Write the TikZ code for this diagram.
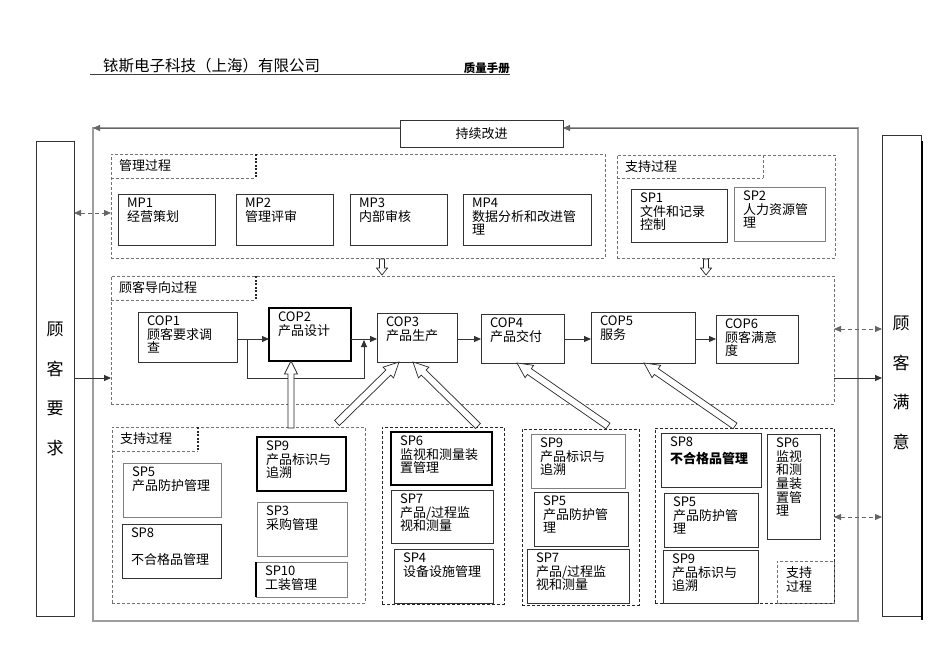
\documentclass[tikz,border=0pt]{standalone}
\usepackage{fontspec}
\setmainfont{Noto Sans CJK SC}
\usetikzlibrary{calc,arrows.meta}
\newcommand\pbox[7][bx]{%
  \node[#1, minimum width={(#5-#3)*1pt}, minimum height={(#6-#4)*1pt}, anchor=north west] (#2) at (#3,#4) {};
  \node[tx] (#2t) at ($(#2.north west)+(9,4)$) {#7};}
\newcommand\gbox[6][grp]{%
  \node[#1, minimum width={(#5-#3)*1pt}, minimum height={(#6-#4)*1pt}, anchor=north west] (#2) at (#3,#4) {};}
\newcommand\glabel[7][lbr]{%
  \node[inner sep=0pt, outer sep=0pt, minimum width={(#5-#3)*1pt}, minimum height={(#6-#4)*1pt}, anchor=north west] (#2) at (#3,#4) {};
  \node[lt, anchor=west] (#2t) at ($(#2.west)+(8,0)$) {#7};
  \draw[grp] (#2.south west) -- (#2.south east);
  \draw[#1] (#2.north east) -- (#2.south east);}
\newcommand\harrow[5]{%
  \coordinate (hh) at ($(#2)!#5pt!(#1)$);
  \draw[hol] ($(#1)!#3pt!90:(#2)$) -- ($(hh)!#3pt!90:(#2)$) -- ($(hh)!#4pt!90:(#2)$) -- (#2)
    -- ($(hh)!#4pt!-90:(#2)$) -- ($(hh)!#3pt!-90:(#2)$) -- ($(#1)!#3pt!-90:(#2)$) -- cycle;}
\begin{document}
\begin{tikzpicture}[x=1pt,y=-1pt,
  bx/.style={draw=black!80, line width=0.9pt, inner sep=0pt, outer sep=0pt},
  bxg/.style={draw=black!50, line width=0.9pt, inner sep=0pt, outer sep=0pt},
  bxk/.style={draw=black, line width=1.2pt, inner sep=0pt, outer sep=0pt},
  tx/.style={inner sep=0pt, outer sep=0pt, align=left, anchor=north west, font=\fontsize{13}{13.6}\selectfont},
  lt/.style={inner sep=0pt, outer sep=0pt, font=\fontsize{13}{14}\selectfont},
  grp/.style={draw=black!55, dash pattern=on 3pt off 2pt, line width=0.7pt, inner sep=0pt, outer sep=0pt},
  grpk/.style={draw=black!85, dash pattern=on 3pt off 2pt, line width=0.9pt, inner sep=0pt, outer sep=0pt},
  lbr/.style={draw=black!85, dash pattern=on 2pt off 1.5pt, line width=1.4pt},
  lbg/.style={draw=black!55, dash pattern=on 3pt off 2pt, line width=0.7pt},
  conn/.style={draw=black!80, line width=0.9pt},
  tip/.style={-{Triangle[length=7pt,width=6pt]}},
  dda/.style={draw=black!60, dash pattern=on 4pt off 3pt, line width=1pt,
    {Triangle[length=7pt,width=6pt]}-{Triangle[length=7pt,width=6pt]}},
  hol/.style={draw=black!85, fill=white, line width=0.7pt, line join=miter},
  big/.style={inner sep=0pt, outer sep=0pt, align=center, font=\fontsize{17}{39.5}\selectfont}
]
\useasboundingbox (0,0) rectangle (945,669);
\fill[white] (0,0) rectangle (945,669);

% header
\node[inner sep=0pt, anchor=west, font=\fontsize{15.5}{16}\selectfont] (hdr) at (103,66) {铱斯电子科技（上海）有限公司};
\node[inner sep=0pt, anchor=east, font=\fontsize{11.5}{12}\selectfont\bfseries] (hdr2) at (510,68) {质量手册};
\coordinate (ul1) at (90,74);
\coordinate (ul2) at (510,74);
\draw[draw=black!75, line width=0.8pt] (ul1) -- (ul2);

% outer frame
\node[draw=black!38, line width=1.6pt, inner sep=0pt, outer sep=0pt, minimum width=765pt, minimum height=493pt, anchor=north west] (outer) at (93,128) {};
\node[bx, fill=white, minimum width=163pt, minimum height=27pt, anchor=north west, font=\fontsize{13}{14}\selectfont] (ci) at (400,120) {持续改进};
\draw[conn, draw=black!60, tip] (outer.north east) -- (ci.east |- outer.north);
\draw[conn, draw=black!60, tip] (ci.west |- outer.north) -- (outer.north west);

% customer boxes
\node[bx, minimum width=38pt, minimum height=475pt, anchor=north west] (crq) at (36,141) {};
\node[big] (crqt) at (55,389) {顾\\客\\要\\求};
\node[bx, minimum width=39pt, minimum height=481pt, anchor=north west] (cs) at (882,135) {};
\node[big] (cst) at (901,383) {顾\\客\\满\\意};
\coordinate (csr1) at (922,141);
\coordinate (csr2) at (922,620);
\draw[line width=2pt] (csr1) -- (csr2);

% management group
\gbox{mgmt}{111}{154}{605}{258}
\glabel{mgl}{111}{154}{256}{178}{管理过程}
\pbox{mp1}{118}{194}{215}{245}{MP1\\经营策划}
\pbox{mp2}{236}{194}{333}{245}{MP2\\管理评审}
\pbox{mp3}{350}{194}{447}{245}{MP3\\内部审核}
\pbox{mp4}{463}{194}{591}{245}{MP4\\数据分析和改进管\\理}

% support top right
\gbox{sptr}{617}{155}{835}{258}
\glabel[lbg]{sptl}{617}{155}{763}{178}{支持过程}
\pbox{sp1}{631}{189}{727}{242}{SP1\\文件和记录\\控制}
\pbox[bxg]{sp2}{734}{187}{825}{241}{SP2\\人力资源管\\理}

% customer oriented process
\gbox{copa}{111}{276}{834}{404}
\glabel{copl}{111}{276}{256}{300}{顾客导向过程}
\pbox{cop1}{138}{312}{237}{362}{COP1\\顾客要求调\\查}
\pbox[bxk]{cop2}{269}{308}{351}{361}{COP2\\产品设计}
\pbox{cop3}{377}{313}{457}{362}{COP3\\产品生产}
\pbox{cop4}{481}{314}{564}{363}{COP4\\产品交付}
\pbox{cop5}{591}{312}{695}{363}{COP5\\服务}
\pbox{cop6}{716}{315}{798}{363}{COP6\\顾客满意\\度}

\draw[conn, tip] (cop1.east |- 0,339) -- (cop2.west |- 0,339);
\draw[conn, tip] (cop2.east |- 0,339) -- (cop3.west |- 0,339);
\draw[conn, tip] (cop3.east |- 0,339) -- (cop4.west |- 0,339);
\draw[conn, tip] (cop4.east |- 0,339) -- (cop5.west |- 0,339);
\draw[conn, tip] (cop5.east |- 0,339) -- (cop6.west |- 0,339);
\coordinate (bpa) at (247,339);
\coordinate (bpb) at (364,340);
\draw[conn, tip] (bpa) -- ++(0,39) -| (bpb);

% top-down hollow arrows
\coordinate (d1t) at (382,259);
\coordinate (d1h) at (382,275);
\harrow{d1t}{d1h}{2.5}{5.5}{7}
\coordinate (d2t) at (706,259);
\coordinate (d2h) at (706,275);
\harrow{d2t}{d2h}{2.5}{5.5}{7}

% side connectors
\draw[dda] (crq.east |- 0,213) -- (mgmt.west |- 0,213);
\draw[conn, tip] (crq.east |- 0,378) -- (copa.west |- 0,378);
\draw[dda] (copa.east |- 0,329) -- (cs.west |- 0,329);
\draw[conn, tip] (copa.east |- 0,378) -- (cs.west |- 0,378);

% bottom support group 1
\gbox{sg1}{112}{427}{365}{603}
\glabel{sg1l}{112}{427}{198}{451}{支持过程}
\pbox[bxg]{g1a}{123}{463}{221}{517}{SP5\\产品防护管理}
\pbox{g1b}{122}{524}{221}{578}{SP8\\[13pt]不合格品管理}
\pbox[bx, line width=1.1pt, draw=black]{g1c}{257}{437}{346}{491}{SP9\\产品标识与\\追溯}
\pbox[bxg]{g1d}{257}{502}{347}{556}{SP3\\采购管理}
\pbox[bxg]{g1e}{256}{562}{347}{597}{SP10\\工装管理}
\draw[line width=1.6pt] (g1e.north west) -- (g1e.south west);

% group 2
\gbox[grpk]{sg2}{382}{427}{504}{604}
\pbox[bxk]{g2a}{391}{432}{492}{485}{SP6\\监视和测量装\\置管理}
\pbox{g2b}{391}{490}{493}{543}{SP7\\产品/过程监\\视和测量}
\pbox{g2c}{394}{549}{493}{603}{SP4\\设备设施管理}

% group 3
\gbox[grpk]{sg3}{522}{429}{639}{605}
\pbox[bxg]{g3a}{531}{434}{625}{488}{SP9\\产品标识与\\追溯}
\pbox{g3b}{534}{492}{628}{546}{SP5\\产品防护管\\理}
\pbox{g3c}{527}{549}{629}{603}{SP7\\产品/过程监\\视和测量}

% group 4
\gbox[grpk]{sg4}{655}{428}{834}{603}
\pbox{g4a}{661}{433}{761}{487}{SP8\\[3pt]\bfseries 不合格品管理}
\pbox{g4b}{767}{434}{820}{539}{SP6\\监视\\和测\\量装\\置管\\理}
\pbox{g4c}{664}{493}{758}{547}{SP5\\产品防护管\\理}
\pbox{g4d}{663}{550}{758}{603}{SP9\\产品标识与\\追溯}
\gbox{g4l}{777}{561}{834}{603}
\node[tx] (g4lt) at ($(g4l.north west)+(9,6)$) {支持\\过程};
\draw[dda] (sg4.east |- 0,517) -- (cs.west |- 0,517);

% hollow arrows from support groups
\coordinate (a1t) at (291,428);
\coordinate (a1h) at ($(cop2.south west)+(22,0)$);
\harrow{a1t}{a1h}{3}{6.5}{13}
\coordinate (a2t) at (337,423);
\coordinate (a2h) at ($(cop3.south west)+(22,0)$);
\harrow{a2t}{a2h}{3.5}{7.5}{15}
\coordinate (a3t) at (478,426);
\coordinate (a3h) at ($(cop3.south west)+(36,0)$);
\harrow{a3t}{a3h}{3.5}{7.5}{15}
\coordinate (a4t) at (608,426);
\coordinate (a4h) at ($(cop4.south west)+(36,0)$);
\harrow{a4t}{a4h}{3.5}{7.5}{15}
\coordinate (a5t) at (735,426);
\coordinate (a5h) at ($(cop5.south west)+(53,0)$);
\harrow{a5t}{a5h}{3.5}{7.5}{15}
\end{tikzpicture}
\end{document}
